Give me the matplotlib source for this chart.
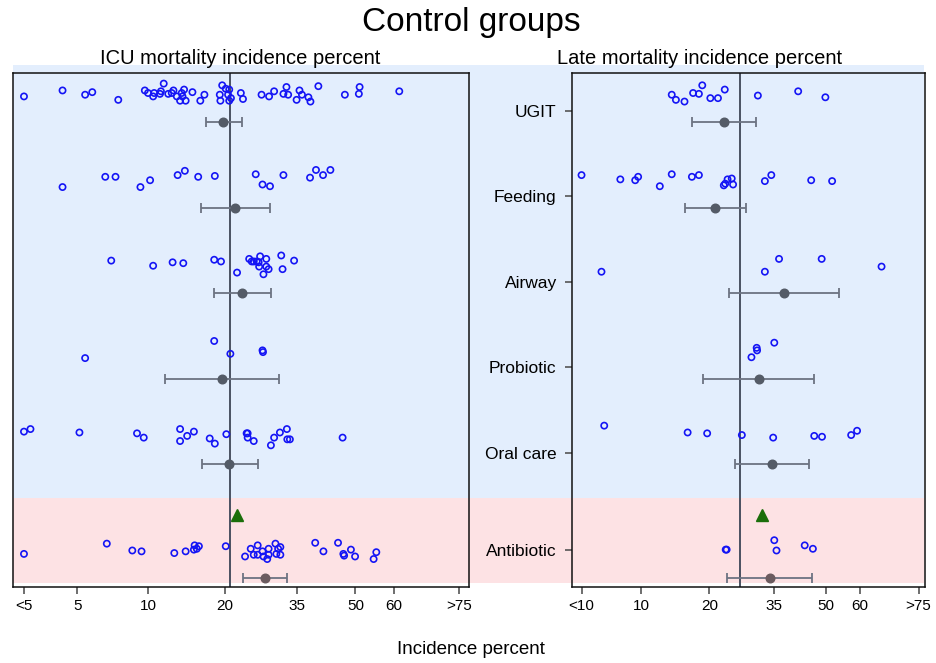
import numpy as np
import matplotlib.pyplot as plt
from matplotlib.patches import Rectangle
from matplotlib.transforms import blended_transform_factory

plt.rcParams['font.family'] = ['Liberation Sans', 'DejaVu Sans']

groups = ['UGIT', 'Feeding', 'Airway', 'Probiotic', 'Oral care', 'Antibiotic']
group_pos = [0, 1, 2, 3, 4, 5.13]

# ICU mortality, percent per control group (dy = vertical jitter in row units)
icu_ugit = [2.9, 4.3, 5.4, 5.8, 7.5, 9.7, 10.0, 10.5, 10.6, 11.2, 11.3, 11.6, 12.1, 12.5, 12.7,
            13.1, 13.5, 13.7, 13.8, 14.0, 14.2, 15.1, 16.2, 16.8, 19.2, 19.3, 19.6, 20.2, 20.8, 20.6,
            21.1, 20.8, 22.9, 23.3, 27.0, 28.6, 29.7, 31.8, 32.5, 32.9, 34.9, 35.6, 36.2, 37.8, 38.3,
            40.3, 47.2, 50.9, 51.1, 61.4]
icu_ugit_dy = [-0.17, -0.24, -0.19, -0.22, -0.13, -0.24, -0.21, -0.17, -0.21, -0.20, -0.23, -0.32, -0.20, -0.21, -0.24,
               -0.17, -0.12, -0.21, -0.17, -0.25, -0.12, -0.22, -0.12, -0.19, -0.19, -0.12, -0.30, -0.26, -0.25, -0.19,
               -0.15, -0.12, -0.21, -0.14, -0.19, -0.17, -0.23, -0.20, -0.28, -0.19, -0.13, -0.24, -0.19, -0.16, -0.11,
               -0.29, -0.19, -0.20, -0.28, -0.23]
icu_feeding = [4.3, 6.6, 7.3, 9.3, 10.2, 13.2, 14.1, 15.9, 18.4, 25.8, 27.2, 28.8, 31.8, 38.2, 39.7, 41.5, 43.4]
icu_feeding_dy = [-0.11, -0.23, -0.23, -0.11, -0.19, -0.25, -0.30, -0.23, -0.24, -0.26, -0.14, -0.12, -0.25,
                  -0.22, -0.31, -0.25, -0.31]
icu_airway = [7.0, 10.5, 12.6, 13.9, 18.3, 19.4, 22.2, 24.5, 25.0, 25.4, 26.0, 26.4, 26.7, 26.5, 28.0, 28.0,
              28.5, 27.4, 31.3, 31.6, 34.3]
icu_airway_dy = [-0.25, -0.19, -0.23, -0.22, -0.26, -0.24, -0.11, -0.27, -0.24, -0.24, -0.24, -0.23, -0.30, -0.18,
                 -0.27, -0.18, -0.15, -0.09, -0.31, -0.15, -0.25]
icu_probiotic = [5.4, 18.3, 21.0, 27.2, 27.3]
icu_probiotic_dy = [-0.11, -0.31, -0.16, -0.20, -0.18]
icu_oral = [2.9, 3.1, 5.1, 9.0, 9.6, 13.5, 13.5, 14.4, 15.3, 17.6, 18.4, 20.3, 24.0, 24.2, 24.2, 25.4, 29.0,
            29.7, 31.0, 32.6, 32.7, 33.3, 46.6]
icu_oral_dy = [-0.25, -0.28, -0.24, -0.23, -0.18, -0.28, -0.14, -0.20, -0.25, -0.17, -0.11, -0.22, -0.23, -0.23,
               -0.18, -0.14, -0.09, -0.18, -0.24, -0.28, -0.16, -0.16, -0.18]
icu_antibiotic = [2.9, 6.7, 8.6, 9.4, 12.8, 14.2, 15.3, 15.4, 15.7, 16.0, 20.2, 23.7, 24.8, 25.4, 26.2, 26.2,
                  27.2, 27.4, 28.2, 28.5, 28.5, 30.0, 30.2, 30.6, 31.1, 31.1, 39.5, 41.6, 45.4, 46.8, 47.0,
                  48.8, 49.9, 54.8, 55.5]
icu_antibiotic_dy = [0.05, -0.07, 0.01, 0.02, 0.04, 0.02, 0.0, -0.05, -0.01, -0.04, -0.04, 0.08, -0.01, 0.06,
                     0.06, -0.05, 0.02, 0.08, 0.11, -0.01, 0.06, -0.07, 0.05, -0.01, -0.03, 0.06, -0.08, 0.02,
                     -0.08, 0.05, 0.07, 0.0, 0.08, 0.11, 0.03]
icu_mean = [19.7, 21.9, 23.2, 19.5, 20.8, 27.7]
icu_lo = [17.0, 16.3, 18.3, 11.7, 16.5, 23.4]
icu_hi = [23.2, 28.7, 29.0, 30.7, 26.2, 32.6]
icu_ref = 20.9
icu_antibiotic_pooled = 22.1

# Late mortality
late_ugit = [13.8, 14.4, 15.7, 17.1, 18.1, 18.7, 20.2, 21.7, 23.1, 30.8, 41.8, 49.8]
late_ugit_dy = [-0.19, -0.13, -0.11, -0.21, -0.20, -0.30, -0.15, -0.15, -0.25, -0.18, -0.23, -0.16]
late_feeding = [5.2, 8.0, 9.4, 9.7, 12.2, 13.8, 16.9, 18.1, 22.9, 23.2, 23.7, 24.6, 24.9, 32.6, 34.3, 45.6, 51.8]
late_feeding_dy = [-0.25, -0.20, -0.19, -0.23, -0.12, -0.26, -0.23, -0.25, -0.13, -0.15, -0.20, -0.21, -0.14,
                   -0.18, -0.25, -0.19, -0.18]
late_airway = [6.5, 32.6, 36.4, 48.7, 65.9]
late_airway_dy = [-0.12, -0.12, -0.27, -0.27, -0.18]
late_probiotic = [29.2, 30.5, 30.6, 35.1]
late_probiotic_dy = [-0.12, -0.23, -0.20, -0.29]
late_oral = [6.7, 16.2, 19.6, 26.9, 34.8, 46.5, 48.8, 57.4, 59.1]
late_oral_dy = [-0.32, -0.24, -0.23, -0.21, -0.18, -0.20, -0.19, -0.21, -0.26]
late_antibiotic = [23.3, 23.5, 35.1, 35.7, 43.7, 46.1]
late_antibiotic_dy = [0.0, 0.0, -0.11, 0.01, -0.05, -0.01]
late_mean = [23.0, 21.2, 37.8, 31.0, 34.6, 33.9]
late_lo = [17.0, 15.8, 24.1, 18.8, 25.4, 23.5]
late_hi = [30.3, 27.9, 53.8, 46.4, 45.1, 45.9]
late_ref = 26.5
late_antibiotic_pooled = 31.8

icu_ticks = [2.9, 5, 10, 20, 35, 50, 60, 75]
icu_ticklabels = ['<5', '5', '10', '20', '35', '50', '60', '>75']
late_ticks = [5.2, 10, 20, 35, 50, 60, 75]
late_ticklabels = ['<10', '10', '20', '35', '50', '60', '>75']


def logit(p):
    p = np.clip(np.asarray(p, dtype=float) / 100, 1e-6, 1 - 1e-6)
    return np.log(p / (1 - p))


def expit(z):
    return 100 / (1 + np.exp(-np.asarray(z, dtype=float)))


def panel(ax, points, jitter, mean, lo, hi, ref, pooled, ticks, ticklabels, xlim):
    ax.set_facecolor('none')
    ax.set_xscale('function', functions=(logit, expit))
    ax.set_xlim(*xlim)
    ax.set_ylim(5.567, -0.444)
    ax.axvline(ref, color='#4a5161', lw=1.4, zorder=2)
    for i, (vals, dy) in enumerate(zip(points, jitter)):
        y0 = group_pos[i]
        ax.scatter(vals, y0 + np.array(dy), s=20, facecolors='none', edgecolors='#1414f5',
                   linewidths=1.2, zorder=3)
        last = i == len(groups) - 1
        off = 0.33 if last else 0.13
        col = '#6b5b5f' if last else '#545b67'
        ax.errorbar(mean[i], y0 + off, xerr=[[mean[i] - lo[i]], [hi[i] - mean[i]]], fmt='o',
                    color=col, ecolor='#6c7382', elinewidth=1.3, capsize=3.5, capthick=1.3,
                    markersize=6.2, zorder=4)
    ax.plot([pooled], [group_pos[-1] - 0.41], marker='^', color='#1b6e0a', markersize=8,
            linestyle='none', zorder=4)
    ax.set_xticks(ticks)
    ax.set_xticklabels(ticklabels)
    ax.xaxis.set_minor_locator(plt.NullLocator())
    ax.tick_params(axis='x', direction='out', length=5, width=1.2, color='#555555',
                   labelsize=11, pad=4)
    for s in ax.spines.values():
        s.set_color('#111111')
        s.set_linewidth(1.1)


fig = plt.figure(figsize=(9.36, 6.63), dpi=100)
W, H = 936, 663
ax1 = fig.add_axes([13 / W, (H - 587) / H, 456 / W, 514 / H])
ax2 = fig.add_axes([572 / W, (H - 587) / H, 353 / W, 514 / H])

panel(ax1, [icu_ugit, icu_feeding, icu_airway, icu_probiotic, icu_oral, icu_antibiotic],
      [icu_ugit_dy, icu_feeding_dy, icu_airway_dy, icu_probiotic_dy, icu_oral_dy, icu_antibiotic_dy],
      icu_mean, icu_lo, icu_hi, icu_ref, icu_antibiotic_pooled, icu_ticks, icu_ticklabels, (2.59, 76.9))
panel(ax2, [late_ugit, late_feeding, late_airway, late_probiotic, late_oral, late_antibiotic],
      [late_ugit_dy, late_feeding_dy, late_airway_dy, late_probiotic_dy, late_oral_dy, late_antibiotic_dy],
      late_mean, late_lo, late_hi, late_ref, late_antibiotic_pooled, late_ticks, late_ticklabels, (4.67, 76.4))

ax1.set_yticks([])
ax2.set_yticks(group_pos)
ax2.set_yticklabels(groups)
ax2.tick_params(axis='y', direction='out', length=5, width=1.2, color='#555555', labelsize=12.5, pad=6)

# shaded bands behind both panels and the label column
band = blended_transform_factory(fig.transFigure, ax2.transData)
x0, x1 = 13 / W, 924 / W
fig.patches.append(Rectangle((x0, -0.538), x1 - x0, 4.526 + 0.538, transform=band,
                             facecolor='#e3eefd', edgecolor='none', zorder=-1))
fig.patches.append(Rectangle((x0, 4.526), x1 - x0, 5.52 - 4.526, transform=band,
                             facecolor='#fde2e4', edgecolor='none', zorder=-1))

fig.text(240 / W, (H - 58) / H, 'ICU mortality incidence percent', ha='center', va='center', fontsize=14.5)
fig.text(700 / W, (H - 58) / H, 'Late mortality incidence percent', ha='center', va='center', fontsize=14.5)
fig.text(471 / W, (H - 22) / H, 'Control groups', ha='center', va='center', fontsize=24)
fig.text(471 / W, (H - 650) / H, 'Incidence percent', ha='center', va='center', fontsize=13.5)

fig.savefig('out.png', dpi=100)
